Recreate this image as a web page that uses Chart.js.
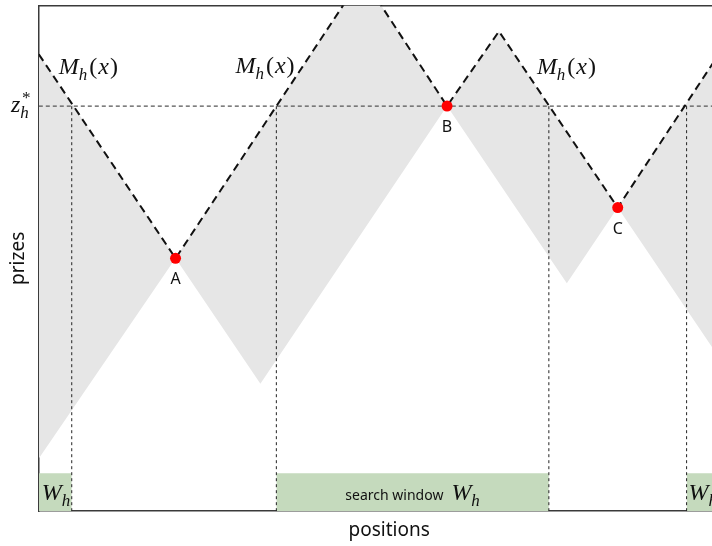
<!DOCTYPE html>
<html>
<head>
<meta charset="utf-8">
<script src="https://cdn.jsdelivr.net/npm/chart.js@4"></script>
<style>
html, body { margin: 0; padding: 0; background: #fff; overflow: hidden; }
#wrap { width: 712px; height: 546px; overflow: hidden; }
#box { width: 745px; height: 546px; }
</style>
</head>
<body>
<div id="wrap"><div id="box"><canvas id="myChart"></canvas></div></div>
<script>
// values (x = position, y = prize)
const upperX = [0, 137, 324, 409, 461, 580, 674, 702];
const upperY = [459, 254, 537, 407, 482, 305, 448, 491];
const lowerX = [0, 137, 222, 409, 529, 580, 702];
const lowerY = [53, 254, 128, 407, 229, 305, 124];
const zStar = 407;
const boundaryX = [33, 238, 511, 649];
const windowStarts = [0, 238, 649];
const windowEnds = [33, 511, 702];
const windowHeight = 38;
const pointNames = ['A', 'B', 'C'];
const pointX = [137, 409, 580];
const pointY = [254, 407, 305];
const mLabelX = [20, 197, 499];
const mLabelY = [439, 440, 439];
const xMax = 702;
const yMax = 508;

const toPts = (xs, ys) => xs.map((x, i) => ({ x: x, y: ys[i] }));

const mathFont = '"Liberation Serif"';
const sansFont = '"Noto Sans"';

// draws base + sub/sup + tail, returns width
const mathText = (ctx, x, y, base, sub, sup, tail, size, measureOnly) => {
  ctx.font = `italic ${size}px ${mathFont}`;
  const w1 = ctx.measureText(base).width;
  if (!measureOnly) ctx.fillText(base, x, y);
  const small = Math.round(size * 0.7);
  ctx.font = `italic ${small}px ${mathFont}`;
  let sw = 0;
  if (sub) {
    if (!measureOnly) ctx.fillText(sub, x + w1, y + size * 0.25);
    sw = ctx.measureText(sub).width;
  }
  if (sup) {
    if (!measureOnly) ctx.fillText(sup, x + w1 + 1, y - size * 0.38);
    sw = Math.max(sw, ctx.measureText(sup).width + 1);
  }
  let w3 = 0;
  if (tail) {
    ctx.font = `${size}px ${mathFont}`;
    const open = tail[0], mid = tail.slice(1, -1), close = tail[tail.length - 1];
    let px = x + w1 + sw + 2;
    if (!measureOnly) ctx.fillText(open, px, y);
    px += ctx.measureText(open).width + 1;
    ctx.font = `italic ${size}px ${mathFont}`;
    if (!measureOnly) ctx.fillText(mid, px, y);
    px += ctx.measureText(mid).width + 1;
    ctx.font = `${size}px ${mathFont}`;
    if (!measureOnly) ctx.fillText(close, px, y);
    px += ctx.measureText(close).width;
    w3 = px - (x + w1 + sw);
  }
  return w1 + sw + w3;
};

const labelsPlugin = {
  id: 'mathLabels',
  afterDatasetsDraw(chart) {
    const ctx = chart.ctx;
    const xs = chart.scales.x;
    const ys = chart.scales.y;
    ctx.save();
    ctx.fillStyle = '#111';
    ctx.textAlign = 'left';
    ctx.textBaseline = 'alphabetic';

    // M_h(x) labels
    mLabelX.forEach((v, i) => {
      mathText(ctx, xs.getPixelForValue(v), ys.getPixelForValue(mLabelY[i]), 'M', 'h', null, '(x)', 24);
    });

    // z*_h at the left of the axis
    mathText(ctx, 11, ys.getPixelForValue(zStar) + 6, 'z', 'h', '*', null, 24);

    // W_h in the windows
    const baseY = ys.getPixelForValue(0) - 11;
    mathText(ctx, xs.getPixelForValue(windowStarts[0]) + 3, baseY, 'W', 'h', null, null, 24);
    mathText(ctx, xs.getPixelForValue(windowStarts[2]) + 2, baseY, 'W', 'h', null, null, 24);

    ctx.font = `14px ${sansFont}`;
    const txt = 'search window';
    const tw = ctx.measureText(txt).width + 8;
    const ww = mathText(ctx, 0, 0, 'W', 'h', null, null, 24, true);
    const cx = (xs.getPixelForValue(windowStarts[1]) + xs.getPixelForValue(windowEnds[1])) / 2;
    const startX = cx - (tw + ww) / 2;
    ctx.font = `14px ${sansFont}`;
    ctx.fillText(txt, startX, baseY);
    mathText(ctx, startX + tw, baseY, 'W', 'h', null, null, 24);

    // point names
    ctx.font = `16px ${sansFont}`;
    ctx.textAlign = 'center';
    pointNames.forEach((n, i) => {
      ctx.fillText(n, xs.getPixelForValue(pointX[i]), ys.getPixelForValue(pointY[i]) + 26);
    });
    ctx.restore();
  }
};

const ctx = document.getElementById('myChart');

const datasets = [
  {
    label: 'points',
    data: toPts(pointX, pointY),
    showLine: false,
    pointRadius: 5.5,
    pointBackgroundColor: '#ff0000',
    pointBorderWidth: 0,
    order: 0
  },
  {
    label: 'M',
    data: toPts(upperX, upperY),
    showLine: true,
    borderColor: '#111',
    borderWidth: 2,
    borderDash: [8, 5],
    pointRadius: 0,
    backgroundColor: '#e6e6e6',
    fill: 2,
    order: 1
  },
  {
    label: 'lower',
    data: toPts(lowerX, lowerY),
    showLine: true,
    borderColor: 'rgba(0,0,0,0)',
    borderWidth: 1,
    pointRadius: 0,
    fill: false,
    order: 9
  },
  {
    label: 'zstar',
    data: [{ x: 0, y: zStar }, { x: xMax, y: zStar }],
    showLine: true,
    borderColor: '#555',
    borderWidth: 1.2,
    borderDash: [4, 3],
    pointRadius: 0,
    order: 3
  }
];

boundaryX.forEach((b) => {
  datasets.push({
    label: 'edge',
    data: [{ x: b, y: 0 }, { x: b, y: zStar }],
    showLine: true,
    borderColor: '#222',
    borderWidth: 1,
    borderDash: [3, 3],
    pointRadius: 0,
    order: 2
  });
});

windowStarts.forEach((s, i) => {
  datasets.push({
    label: 'window',
    data: [{ x: s, y: windowHeight }, { x: windowEnds[i], y: windowHeight }],
    showLine: true,
    borderColor: 'rgba(0,0,0,0)',
    borderWidth: 1,
    pointRadius: 0,
    backgroundColor: '#c5dabd',
    fill: 'origin',
    order: 8
  });
});

const frame = { display: true, color: '#3a3a3a', width: 1.5 };

const myChart = new Chart(ctx, {
  type: 'scatter',
  data: { datasets: datasets },
  options: {
    responsive: true,
    maintainAspectRatio: false,
    animation: false,
    events: [],
    layout: { padding: { top: -1, left: 3, right: 0, bottom: 3 } },
    plugins: {
      legend: { display: false },
      tooltip: { enabled: false },
      filler: { drawTime: 'beforeDatasetsDraw' }
    },
    scales: {
      x: {
        type: 'linear', min: 0, max: xMax,
        grid: { display: false, drawTicks: false },
        ticks: { display: false },
        border: frame,
        title: { display: true, text: 'positions', color: '#111', font: { family: sansFont, size: 19 }, padding: { top: 8, bottom: 1 } }
      },
      x2: {
        type: 'linear', position: 'top', min: 0, max: xMax,
        grid: { display: false, drawTicks: false },
        ticks: { display: false },
        border: frame
      },
      y: {
        type: 'linear', min: 0, max: yMax,
        grid: { display: false, drawTicks: false },
        ticks: { display: false },
        border: frame,
        title: { display: true, text: 'prizes', color: '#111', font: { family: sansFont, size: 19 }, padding: { top: 4, bottom: 9 } }
      }
    }
  },
  plugins: [labelsPlugin]
});
</script>
</body>
</html>
